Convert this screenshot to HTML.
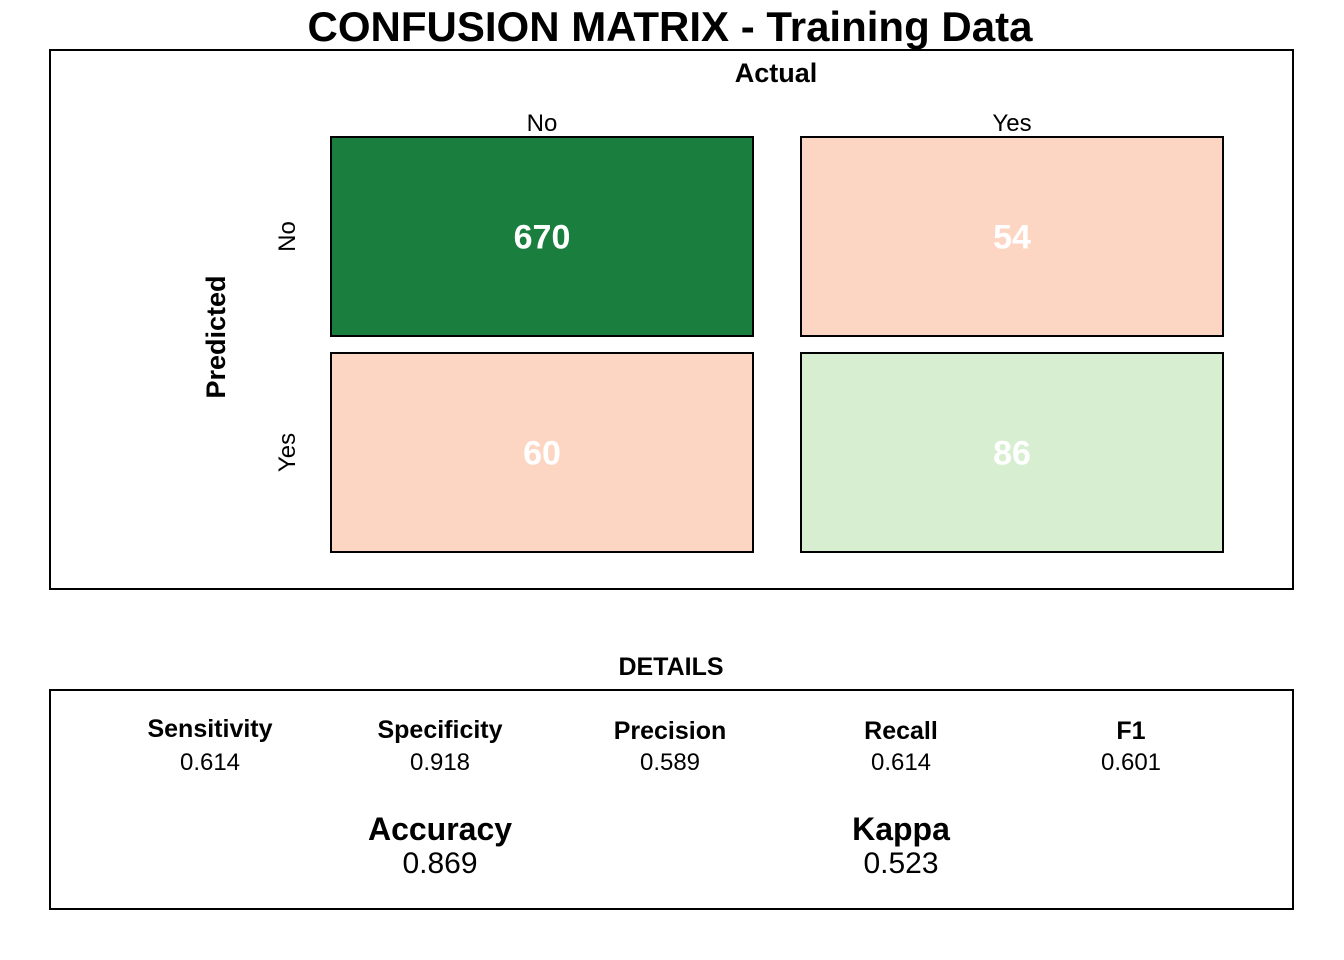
<!DOCTYPE html>
<html><head><meta charset="utf-8"><style>
body{margin:0;background:#fff;}
svg{display:block;font-family:"Liberation Sans",Arial,sans-serif;}
</style></head><body>
<svg id="chart" width="1344" height="960" viewBox="0 0 1344 960">
<text x="670" y="41" text-anchor="middle" font-size="42" font-weight="bold">CONFUSION MATRIX - Training Data</text>
<rect x="50" y="50" width="1243" height="539" fill="none" stroke="#000" stroke-width="2"/>
<text x="776" y="82" text-anchor="middle" font-size="27" font-weight="bold">Actual</text>
<text transform="translate(225,337) rotate(-90)" text-anchor="middle" font-size="27" font-weight="bold">Predicted</text>
<g id="cells"></g>
<text x="671" y="675" text-anchor="middle" font-size="25" font-weight="bold">DETAILS</text>
<rect x="50" y="690" width="1243" height="219" fill="none" stroke="#000" stroke-width="2"/>
<g id="metrics"></g>
</svg>
<script>
const actualLabels=["No","Yes"];
const predictedLabels=["No","Yes"];
const counts=[[670,54],[60,86]];
const cellColors=[["#1a7f3e","#fcd6c2"],["#fcd6c2","#d7eed1"]];
const metricNames=["Sensitivity","Specificity","Precision","Recall","F1"];
const metricValues=["0.614","0.918","0.589","0.614","0.601"];
const bigNames=["Accuracy","Kappa"];
const bigValues=["0.869","0.523"];
const NS="http://www.w3.org/2000/svg";
const colX=[331,801], rowY=[137,353], cw=422, ch=199;
const g=document.getElementById('cells');
function mk(t,a,p){const e=document.createElementNS(NS,t);for(const k in a)e.setAttribute(k,a[k]);p.appendChild(e);return e;}
actualLabels.forEach((l,j)=>{
  const t=mk('text',{x:colX[j]+cw/2,y:131,'text-anchor':'middle','font-size':24},g);t.textContent=l;
  
  
});
predictedLabels.forEach((l,i)=>{
  const t=mk('text',{transform:`translate(295,${rowY[i]+ch/2}) rotate(-90)`,'text-anchor':'middle','font-size':24},g);t.textContent=l;
  
  
});
counts.forEach((row,i)=>row.forEach((v,j)=>{
  const r=mk('rect',{x:colX[j],y:rowY[i],width:cw,height:ch,fill:cellColors[i][j],stroke:'#000','stroke-width':2},g);
  
  
  const t=mk('text',{x:colX[j]+cw/2,y:rowY[i]+ch/2+12,'text-anchor':'middle','font-size':34,'font-weight':'bold',fill:'#fff'},g);t.textContent=v;
  
  
}));
const m=document.getElementById('metrics');
const mx=[210,440,670,901,1131], my=[737,738,739,739,739];
metricNames.forEach((n,k)=>{
  const a=mk('text',{x:mx[k],y:my[k],'text-anchor':'middle','font-size':25,'font-weight':'bold'},m);a.textContent=n;
  
  
  const b=mk('text',{x:mx[k],y:770,'text-anchor':'middle','font-size':24},m);b.textContent=metricValues[k];
  
  
});
const bx=[440,901];
bigNames.forEach((n,k)=>{
  const a=mk('text',{x:bx[k],y:840,'text-anchor':'middle','font-size':32,'font-weight':'bold'},m);a.textContent=n;
  
  
  const b=mk('text',{x:bx[k],y:873,'text-anchor':'middle','font-size':30},m);b.textContent=bigValues[k];
  
  
});
</script>
</body></html>
